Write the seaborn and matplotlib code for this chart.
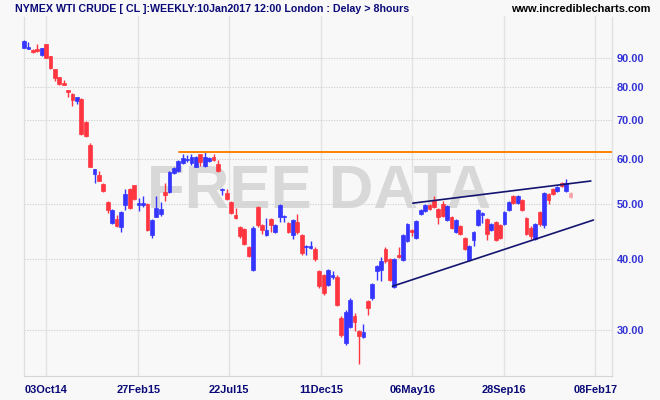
import numpy as np
import pandas as pd
import matplotlib
matplotlib.use("Agg")
import matplotlib.pyplot as plt
import seaborn as sns
from matplotlib.ticker import FixedLocator, FixedFormatter, NullLocator

# ---------------- data (weekly OHLC, NYMEX WTI crude, Aug 2014 - Jan 2017) -------------
open_ = [94.0, 93.5, 93.2, 93.3, 91.2, 95.2, 90.7, 86.1, 83.3, 81.4,
         79.1, 78.0, 75.6, 76.4, 69.5, 63.3, 56.4, 56.1, 54.1, 50.4,
         46.2, 47.0, 45.5, 49.7, 53.0, 53.9, 49.7, 49.7, 49.9, 44.1,
         47.4, 48.0, 52.4, 52.4, 56.5, 57.0, 59.0, 59.6, 59.0, 58.1,
         61.0, 58.3, 59.5, 60.4, 58.6, 52.8, 52.2, 50.3, 47.8, 45.5,
         45.1, 41.9, 38.2, 49.4, 45.9, 44.1, 47.0, 44.6, 47.3, 47.3,
         46.3, 44.1, 46.5, 44.1, 41.9, 41.8, 41.7, 38.0, 37.4, 36.0,
         37.1, 37.2, 31.5, 28.4, 30.4, 31.8, 29.9, 29.1, 33.7, 34.1,
         38.0, 38.2, 41.7, 39.9, 35.7, 40.7, 39.8, 43.0, 44.9, 43.6,
         47.9, 48.5, 49.7, 50.7, 48.9, 50.0, 46.8, 47.3, 44.6, 45.6,
         43.5, 39.8, 43.1, 45.8, 47.7, 47.0, 44.9, 46.5, 45.8, 46.0,
         48.8, 51.5, 50.2, 50.7, 47.2, 45.4, 43.4, 48.4, 45.8, 52.0,
         53.1, 52.6, 54.3, 52.7, 52.3]
high = [96.8, 96.0, 93.4, 95.2, 94.0, 95.4, 91.0, 86.3, 83.5, 82.3,
        79.2, 78.3, 77.1, 76.6, 69.9, 63.8, 57.6, 57.0, 54.3, 50.6,
        48.9, 47.7, 48.5, 53.0, 53.3, 54.0, 51.2, 51.6, 50.1, 47.0,
        51.5, 50.3, 54.4, 57.0, 58.0, 59.6, 61.0, 60.8, 61.0, 60.6,
        61.2, 61.9, 60.4, 61.0, 59.6, 53.3, 53.1, 50.5, 49.2, 45.7,
        45.3, 42.1, 45.6, 49.6, 46.1, 47.1, 47.2, 46.0, 50.0, 47.8,
        46.5, 47.0, 48.0, 44.3, 42.3, 43.0, 41.9, 38.2, 37.6, 38.4,
        38.0, 37.4, 31.7, 32.5, 34.1, 32.1, 30.0, 30.7, 33.8, 36.3,
        39.0, 40.3, 41.9, 40.1, 40.1, 42.0, 44.2, 46.2, 45.1, 46.8,
        48.9, 49.9, 49.9, 51.6, 49.1, 50.5, 49.8, 47.5, 47.0, 45.8,
        43.7, 42.3, 44.8, 48.9, 48.4, 47.2, 46.3, 46.7, 46.0, 48.6,
        50.6, 51.7, 51.7, 50.9, 47.4, 45.6, 46.3, 48.6, 52.4, 52.2,
        53.3, 53.6, 54.5, 55.2, 52.5]
low = [93.8, 93.3, 91.9, 92.4, 91.0, 90.0, 86.3, 82.1, 80.7, 80.8,
       77.0, 74.1, 74.7, 66.0, 65.6, 57.9, 54.3, 54.7, 52.4, 48.2,
       46.0, 45.5, 44.6, 48.7, 48.9, 50.8, 48.5, 49.4, 44.7, 43.6,
       47.3, 47.5, 50.5, 52.2, 56.3, 56.8, 58.8, 59.2, 58.4, 57.9,
       58.2, 58.1, 59.2, 59.5, 56.9, 51.7, 50.7, 48.0, 47.0, 43.6,
       42.3, 40.3, 38.0, 45.5, 44.2, 43.9, 44.6, 44.4, 46.4, 46.4,
       44.4, 43.4, 44.3, 40.7, 40.6, 41.7, 39.7, 35.6, 34.6, 35.8,
       36.8, 33.0, 29.2, 28.2, 30.2, 29.9, 26.1, 29.0, 31.9, 33.9,
       36.7, 36.6, 39.4, 36.5, 35.5, 40.1, 39.6, 42.8, 43.9, 43.4,
       47.7, 48.3, 48.8, 49.1, 46.0, 47.4, 46.6, 45.2, 44.4, 44.1,
       41.4, 39.6, 42.1, 45.6, 46.3, 43.2, 44.7, 43.0, 43.3, 45.8,
       48.6, 50.0, 50.0, 48.6, 44.0, 43.4, 43.2, 45.6, 45.4, 50.0,
       51.8, 52.4, 53.5, 52.5, 51.2]
close = [96.6, 94.2, 92.2, 92.6, 93.9, 90.1, 86.5, 83.2, 81.0, 80.9,
         78.4, 76.1, 77.0, 66.2, 65.8, 58.1, 57.5, 54.9, 52.6, 48.7,
         48.7, 45.7, 48.3, 52.0, 49.2, 51.0, 50.2, 50.1, 44.9, 46.8,
         49.2, 49.0, 51.7, 56.9, 57.8, 59.4, 60.1, 60.0, 60.3, 60.5,
         59.2, 60.5, 60.1, 59.7, 57.0, 53.1, 50.9, 48.2, 47.2, 43.8,
         42.5, 40.5, 45.4, 45.8, 44.9, 44.9, 45.9, 45.8, 49.8, 47.6,
         44.6, 46.8, 44.5, 40.9, 42.2, 42.1, 39.9, 35.8, 34.8, 38.2,
         37.5, 33.2, 29.4, 32.3, 33.9, 31.0, 29.3, 29.8, 32.8, 36.1,
         38.9, 39.7, 39.6, 36.7, 39.9, 40.3, 44.0, 46.0, 44.6, 46.6,
         48.7, 49.7, 49.0, 49.3, 47.4, 47.6, 49.6, 45.4, 46.8, 44.3,
         41.6, 42.1, 44.6, 48.7, 48.2, 44.3, 46.1, 43.2, 43.5, 48.4,
         50.4, 50.2, 51.5, 48.8, 44.2, 43.8, 46.1, 46.0, 52.2, 50.7,
         52.0, 53.4, 53.7, 54.3, 51.4]

tick_labels = ["03Oct14", "27Feb15", "22Jul15", "11Dec15", "06May16", "28Sep16", "08Feb17"]
price_ticks = [30, 40, 50, 60, 70, 80, 90]

# drawn lines: resistance level and the two trend lines (week index, price)
resist_x, resist_y = [35.2, 133.3], [61.6, 61.6]
upper_x, upper_y = [88.2, 128.6], [50.1, 54.8]
lower_x, lower_y = [83.6, 129.2], [35.8, 46.8]

# ---------------- style -------------------------------------------------------------
BG = "#f8f8f8"
BLUE = "#3535ff"
RED = "#ff3540"
PINK = "#f7a3aa"
NAVY = "#0a0a78"

sns.set_style("white")
plt.rcParams["font.family"] = ["Liberation Sans", "DejaVu Sans"]

fig = plt.figure(figsize=(6.6, 4.0), dpi=100)
fig.patch.set_facecolor(BG)
W, H = 660.0, 400.0
left, right, top, bottom = 24.3, 611.7, 16.5, 376.0
ax = fig.add_axes([left / W, 1 - bottom / H, (right - left) / W, (bottom - top) / H])
ax.set_facecolor(BG)
ax.set_yscale("log")
ax.set_xlim(0.07, 133.33)
ax.set_ylim(24.9, 106.6)

# ticks
tick_pos = [4.99, 25.93, 46.57, 67.38, 88.09, 108.96, 129.6]
ax.xaxis.set_major_locator(FixedLocator(tick_pos))
ax.xaxis.set_major_formatter(FixedFormatter(tick_labels))
ax.xaxis.set_minor_locator(NullLocator())
ax.yaxis.set_major_locator(FixedLocator(price_ticks))
ax.yaxis.set_major_formatter(FixedFormatter([f"{p:.2f}" for p in price_ticks]))
ax.yaxis.set_minor_locator(NullLocator())
ax.yaxis.tick_right()
ax.tick_params(axis="x", length=0, pad=6.5, labelsize=7.9, labelcolor=NAVY)
ax.tick_params(axis="y", length=0, pad=3.6, labelsize=7.9, labelcolor="#3333d6")
for t in ax.get_xticklabels() + ax.get_yticklabels():
    t.set_fontweight("bold")

# grid & frame
ax.set_axisbelow(True)
ax.grid(axis="x", color="#e3e3e3", lw=1.0, ls="-")
ax.grid(axis="y", color="#d2d2d2", lw=0.8, ls=(0, (1.2, 1.2)))
ax.spines["top"].set_visible(False)
for s in ("left", "right"):
    ax.spines[s].set_color("#e0e0e0")
    ax.spines[s].set_linewidth(1.0)
ax.spines["bottom"].set_color("#d2d2d2")
ax.spines["bottom"].set_linestyle((0, (1.2, 1.2)))
ax.spines["bottom"].set_linewidth(0.8)

# watermark
ax.text(319.5 / W, 1 - 208 / H, "FREE DATA", transform=fig.transFigure,
        ha="center", va="baseline", fontsize=44.5, color="#d8d8d8",
        family="Liberation Sans", fontweight="bold", zorder=0.3)

# candles
o = np.array(open_); h = np.array(high); l = np.array(low); c = np.array(close)
x = np.arange(len(c))
colors = np.where(c >= o, BLUE, RED).astype(object)
colors[-1] = PINK
ax.vlines(x, l, h, colors=list(colors), lw=1.0, zorder=3, clip_on=False)
ax.bar(x, np.abs(c - o), bottom=np.minimum(o, c), width=0.86, color=list(colors),
       edgecolor=list(colors), linewidth=0.5, zorder=4, clip_on=False)

# lines
sns.lineplot(x=resist_x, y=resist_y, ax=ax, color="#ff8000", lw=1.4, zorder=5)
sns.lineplot(x=upper_x, y=upper_y, ax=ax, color="#141470", lw=1.2, zorder=5)
sns.lineplot(x=lower_x, y=lower_y, ax=ax, color="#141470", lw=1.2, zorder=5)
ax.set_xlabel(""); ax.set_ylabel("")

# header texts
fig.text(15 / W, 1 - 11.7 / H, "NYMEX WTI CRUDE [ CL ]:WEEKLY:10Jan2017 12:00 London : Delay > 8hours",
         ha="left", va="baseline", fontsize=7.7, fontweight="bold", color=NAVY)
fig.text(650.7 / W, 1 - 11.7 / H, "www.incrediblecharts.com",
         ha="right", va="baseline", fontsize=7.9, fontweight="bold", color="black")

fig.savefig("out.png", dpi=100, facecolor=BG)
